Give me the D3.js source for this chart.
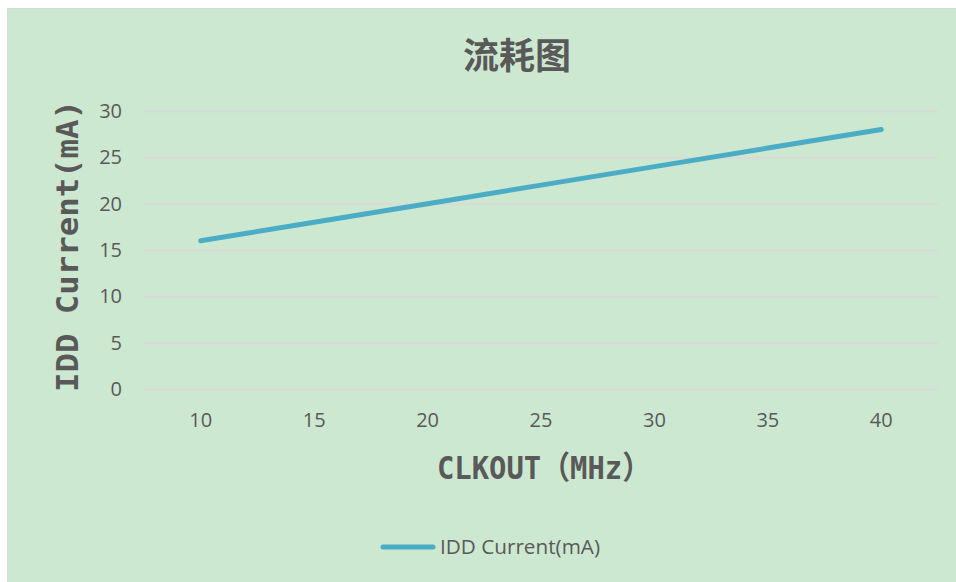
<!DOCTYPE html>
<html>
<head>
<meta charset="utf-8">
<script src="https://cdn.jsdelivr.net/npm/d3@7"></script>
<style>
  body { margin: 0; background: #fff; }
  svg { display: block; }
</style>
</head>
<body>
<svg width="956" height="582"></svg>
<script>
const freqs = [10, 15, 20, 25, 30, 35, 40]
const current = [16, 18, 20, 22, 24, 26, 28]
const yTicks = [0, 5, 10, 15, 20, 25, 30]

const svg = d3.select('svg')
const width = +svg.attr('width')
const height = +svg.attr('height')

const margin = {top: 111, right: 18, bottom: 193, left: 144}
const innerWidth = width - margin.left - margin.right
const innerHeight = height - margin.top - margin.bottom

// chart area background with thin border
svg.append('rect')
    .attr('x', 7.5).attr('y', 8.5)
    .attr('width', width - 7).attr('height', height - 8)
    .attr('fill', '#cde8d0')
    .attr('stroke', '#d9d9d9')

svg.append('text')
    .attr('x', 517).attr('y', 69)
    .attr('text-anchor', 'middle')
    .attr('font-family', '"Noto Sans CJK SC", sans-serif')
    .attr('font-weight', 'bold')
    .attr('font-size', 36)
    .attr('fill', '#595959')
    .text('流耗图')

const xScale = d3.scaleBand()
    .domain(freqs)
    .range([0, innerWidth])

const yScale = d3.scaleLinear()
    .domain([0, 30])
    .range([innerHeight, 0])

const g = svg.append('g')
    .attr('transform', `translate(${margin.left},${margin.top})`)

const yAxis = g.append('g')
    .call(d3.axisLeft(yScale).tickValues(yTicks).tickSize(-innerWidth).tickPadding(22))
yAxis.select('.domain').remove()
yAxis.selectAll('line').attr('stroke', '#d9d9d9').attr('stroke-width', 2)
yAxis.selectAll('text')
    .attr('font-family', '"Open Sans", sans-serif')
    .attr('font-size', 20)
    .attr('fill', '#595959')

const xAxis = g.append('g')
    .attr('transform', `translate(0,${innerHeight})`)
    .call(d3.axisBottom(xScale).tickSize(0).tickPadding(24))
xAxis.select('.domain').remove()
xAxis.selectAll('text')
    .attr('font-family', '"Open Sans", sans-serif')
    .attr('font-size', 20)
    .attr('fill', '#595959')

const line = d3.line()
    .x((d, i) => xScale(freqs[i]) + xScale.bandwidth() / 2)
    .y(d => yScale(d))

g.append('path')
    .datum(current)
    .attr('d', line)
    .attr('fill', 'none')
    .attr('stroke', '#4bacc6')
    .attr('stroke-width', 5)
    .attr('stroke-linecap', 'round')

// axis titles
svg.append('text')
    .attr('x', 437).attr('y', 479)
    .attr('font-family', '"DejaVu Sans Mono", "Noto Sans CJK SC", monospace')
    .attr('font-weight', 'bold')
    .attr('font-size', 32)
    .attr('textLength', 214)
    .attr('lengthAdjust', 'spacingAndGlyphs')
    .attr('fill', '#595959')
    .text('CLKOUT（MHz）')

svg.append('text')
    .attr('transform', 'translate(78,246) rotate(-90)')
    .attr('text-anchor', 'middle')
    .attr('font-family', '"DejaVu Sans Mono", "Noto Sans CJK SC", monospace')
    .attr('font-weight', 'bold')
    .attr('font-size', 31)
    .attr('textLength', 292)
    .attr('lengthAdjust', 'spacingAndGlyphs')
    .attr('fill', '#595959')
    .text('IDD Current(mA)')

// legend
const legend = svg.append('g')
legend.append('line')
    .attr('x1', 383).attr('x2', 433)
    .attr('y1', 547).attr('y2', 547)
    .attr('stroke', '#4bacc6')
    .attr('stroke-width', 5)
    .attr('stroke-linecap', 'round')
legend.append('text')
    .attr('x', 440).attr('y', 554)
    .attr('font-family', '"Open Sans", sans-serif')
    .attr('font-size', 20)
    .attr('textLength', 160)
    .attr('lengthAdjust', 'spacingAndGlyphs')
    .attr('fill', '#595959')
    .text('IDD Current(mA)')
</script>
</body>
</html>
